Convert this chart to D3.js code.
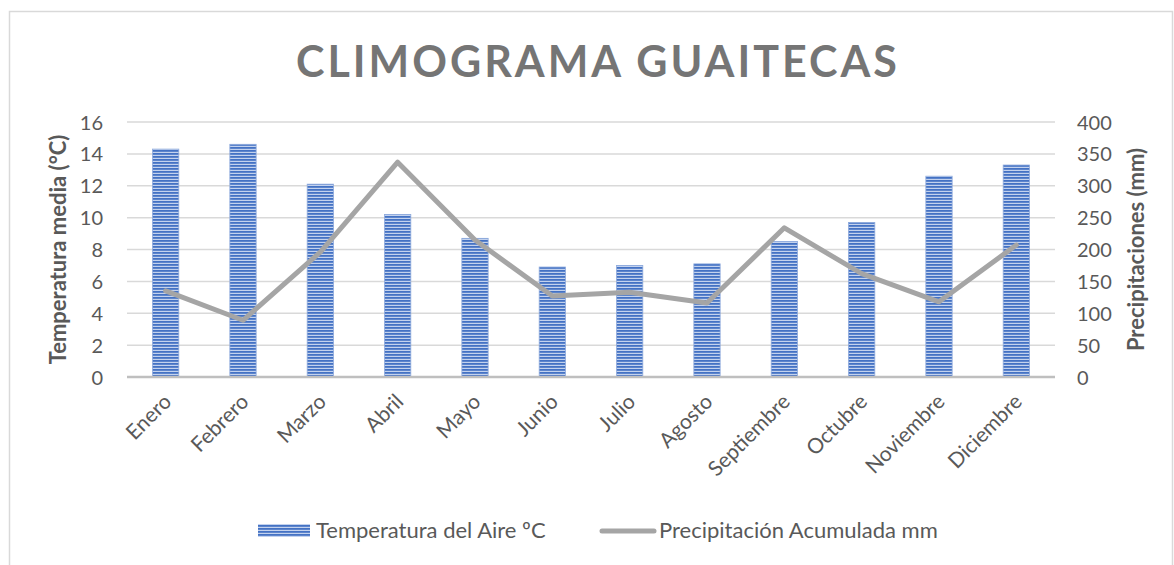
<!DOCTYPE html>
<html><head><meta charset="utf-8">
<script src="https://cdn.jsdelivr.net/npm/d3@7"></script>
<style>body{margin:0;background:#fff}svg{display:block}</style>
</head><body>
<svg id="c" width="1174" height="565"></svg>
<script>
const months = ["Enero","Febrero","Marzo","Abril","Mayo","Junio","Julio","Agosto","Septiembre","Octubre","Noviembre","Diciembre"];
const temperature = [14.3,14.6,12.1,10.2,8.7,6.9,7.0,7.1,8.5,9.7,12.6,13.3];
const precipitation = [135,89,196,337,215,127,133,116,234,162,118,207];
const leftTicks = [0,2,4,6,8,10,12,14,16];
const rightTicks = [0,50,100,150,200,250,300,350,400];

const svg = d3.select("#c");
const font = "Lato, 'Open Sans', sans-serif";
const txt = "#595959";

// frame
svg.append("rect").attr("x",9.5).attr("y",11.5).attr("width",1163).attr("height",560)
  .attr("fill","#fff").attr("stroke","#d9d9d9").attr("stroke-width",1.5);

// pattern
const defs = svg.append("defs");
const pat = defs.append("pattern").attr("id","stripes").attr("patternUnits","userSpaceOnUse")
  .attr("width",8).attr("height",3);
pat.append("rect").attr("width",8).attr("height",3).attr("fill","#c3d2ee");
pat.append("rect").attr("width",8).attr("height",1.8).attr("fill","#4472c4");

const L=127, R=1055, T=122, B=377;
const x = d3.scaleBand().domain(months).range([L,R]).paddingInner(0.66).paddingOuter(0.33);
const yL = d3.scaleLinear().domain([0,16]).range([B,T]);
const yR = d3.scaleLinear().domain([0,400]).range([B,T]);

// gridlines
svg.append("g").selectAll("line").data(leftTicks.slice(1)).join("line")
  .attr("x1",L).attr("x2",R).attr("y1",d=>yL(d)).attr("y2",d=>yL(d))
  .attr("stroke","#d9d9d9").attr("stroke-width",1.5);

// bars
svg.append("g").selectAll("rect").data(months).join("rect")
  .attr("x",d=>x(d)).attr("width",x.bandwidth())
  .attr("y",(d,i)=>yL(temperature[i])).attr("height",(d,i)=>B-yL(temperature[i]))
  .attr("fill","url(#stripes)").attr("stroke","#8eaadc").attr("stroke-width",0.8);

// axis line
svg.append("line").attr("x1",L).attr("x2",R).attr("y1",B).attr("y2",B)
  .attr("stroke","#bfbfbf").attr("stroke-width",2.5);

// line
const line = d3.line().x((d,i)=>x(months[i])+x.bandwidth()/2).y(d=>yR(d));
svg.append("path").datum(precipitation).attr("d",line).attr("fill","none")
  .attr("stroke","#a5a5a5").attr("stroke-width",5).attr("stroke-linejoin","round").attr("stroke-linecap","round");

// left ticks
const axL = d3.axisLeft(yL).tickValues(leftTicks).tickSize(0).tickPadding(0);
const gL = svg.append("g").attr("transform",`translate(${L-24},0)`).call(axL);
gL.select(".domain").remove();
gL.selectAll("text").attr("font-family",font).attr("font-size",20).attr("fill",txt).attr("dy","0.35em");

const axR = d3.axisRight(yR).tickValues(rightTicks).tickSize(0).tickPadding(0);
const gR = svg.append("g").attr("transform",`translate(${R+22},0)`).call(axR);
gR.select(".domain").remove();
gR.selectAll("text").attr("font-family",font).attr("font-size",20).attr("fill",txt).attr("dy","0.35em");

// x labels
const axB = d3.axisBottom(x).tickSize(0).tickPadding(0);
const gB = svg.append("g").attr("transform",`translate(0,${B})`).call(axB);
gB.select(".domain").remove();
gB.selectAll("text").attr("font-family",font).attr("font-size",21).attr("fill",txt)
  .attr("text-anchor","end").attr("dy",0).attr("y",0)
  .attr("transform","translate(7,26) rotate(-45)");

// axis titles
svg.append("text").attr("transform",`translate(66,${(T+B)/2}) rotate(-90)`).attr("text-anchor","middle")
  .attr("font-family",font).attr("font-size",22).attr("font-weight","bold").attr("fill",txt)
  .text("Temperatura media (°C)");
svg.append("text").attr("transform",`translate(1144,${(T+B)/2}) rotate(-90)`).attr("text-anchor","middle")
  .attr("font-family",font).attr("font-size",22).attr("font-weight","bold").attr("fill",txt)
  .text("Precipitaciones (mm)");

// title
svg.append("text").attr("x",598).attr("y",77).attr("text-anchor","middle")
  .attr("font-family",font).attr("font-size",43).attr("font-weight","bold").attr("fill","#757575")
  .attr("letter-spacing",3).text("CLIMOGRAMA GUAITECAS");

// legend
svg.append("rect").attr("x",258).attr("y",524).attr("width",52).attr("height",13).attr("fill","url(#stripes)");
svg.append("text").attr("x",316).attr("y",538).attr("font-family",font).attr("font-size",22).attr("fill",txt)
  .text("Temperatura del Aire ºC");
svg.append("line").attr("x1",602).attr("x2",654).attr("y1",531).attr("y2",531)
  .attr("stroke","#a5a5a5").attr("stroke-width",5).attr("stroke-linecap","round");
svg.append("text").attr("x",659).attr("y",538).attr("font-family",font).attr("font-size",22).attr("fill",txt)
  .text("Precipitación Acumulada mm");
</script>
</body></html>
